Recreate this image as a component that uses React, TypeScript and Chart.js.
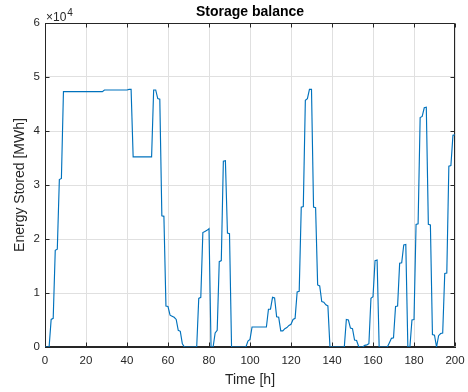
import { useEffect, useRef } from "react";
import { Chart, registerables } from "chart.js";

Chart.register(...registerables);

// Hourly energy held in storage [MWh], t = 0 … 200 h
const storedEnergy: number[] = [
  0, 0, 0, 5100, 5300, 17900, 18100, 31000, 31200, 47300, // 0-9
  47300, 47300, 47300, 47300, 47300, 47300, 47300, 47300, 47300, 47300, // 10-19
  47300, 47300, 47300, 47300, 47300, 47300, 47300, 47300, 47300, 47600, // 20-29
  47600, 47600, 47600, 47600, 47600, 47600, 47600, 47600, 47600, 47600, // 30-39
  47600, 47700, 47700, 35200, 35200, 35200, 35200, 35200, 35200, 35200, // 40-49
  35200, 35200, 35200, 47600, 47600, 46000, 45900, 24300, 24200, 7600, // 50-59
  7500, 5900, 5700, 5500, 5100, 3100, 2900, 600, 0, 0, // 60-69
  0, 0, 0, 0, 0, 9000, 9200, 21200, 21400, 21600, // 70-79
  21900, 0, 0, 2600, 3100, 15800, 16000, 34400, 34500, 21100, // 80-89
  21000, 0, 0, 0, 0, 0, 0, 0, 0, 1100, // 90-99
  1400, 3700, 3700, 3700, 3700, 3700, 3700, 3700, 3700, 7000, // 100-109
  7000, 9200, 9100, 5600, 5500, 3000, 3000, 3400, 3600, 4000, // 110-119
  4200, 5100, 5300, 10200, 10300, 25900, 26000, 45700, 46000, 47700, // 120-129
  47700, 25900, 25800, 11500, 11300, 8400, 8300, 7800, 7600, 0, // 130-139
  0, 0, 0, 0, 0, 0, 0, 5100, 5000, 3500, // 140-149
  3400, 1300, 1200, 100, 0, 0, 300, 400, 600, 9000, // 150-159
  9300, 16000, 16100, 0, 0, 0, 0, 0, 800, 1600, // 160-169
  1700, 7500, 7600, 15500, 15600, 18900, 19000, 0, 0, 5000, // 170-179
  5100, 22700, 22800, 42500, 42700, 44300, 44400, 22700, 22600, 2300, // 180-189
  2200, 0, 2100, 2500, 2600, 13600, 13700, 33500, 33600, 39200, // 190-199
  39300, // 200
];

const hours: number[] = storedEnergy.map((_, i) => i);

const xTickValues: number[] = [0, 20, 40, 60, 80, 100, 120, 140, 160, 180, 200];
const yTickValues: number[] = [0, 10000, 20000, 30000, 40000, 50000, 60000];

const titleText = "Storage balance";
const xLabel = "Time [h]";
const yLabel = "Energy Stored [MWh]";

const AXIS = "#262626";
const GRID = "#e0e0e0";
const LINE = "#0072BD";
const FONT = "'Liberation Sans', Arial, Helvetica, sans-serif";

const W = 468;
const H = 392;

// Box outline, inward tick marks, title and the ×10^4 exponent
const framePlugin = {
  id: "frame",
  beforeDatasetsDraw(chart: any) {
    const { ctx, chartArea: a, scales } = chart;
    const L = Math.round(a.left) + 0.5;
    const R = Math.round(a.right) - 0.5;
    const T = Math.round(a.top) + 0.5;
    const B = Math.round(a.bottom) - 0.5;
    const tick = 4;
    ctx.save();
    ctx.strokeStyle = AXIS;
    ctx.lineWidth = 1;
    ctx.beginPath();
    ctx.moveTo(L, T);
    ctx.lineTo(R, T);
    ctx.lineTo(R, B);
    ctx.moveTo(L, T);
    ctx.lineTo(L, B);
    ctx.lineTo(R, B);
    for (const v of xTickValues) {
      const px = Math.round(scales.x.getPixelForValue(v)) + 0.5;
      ctx.moveTo(px, B);
      ctx.lineTo(px, B - tick);
      ctx.moveTo(px, T);
      ctx.lineTo(px, T + tick);
    }
    for (const v of yTickValues) {
      const py = Math.round(scales.y.getPixelForValue(v)) + 0.5;
      ctx.moveTo(L, py);
      ctx.lineTo(L + tick, py);
      ctx.moveTo(R, py);
      ctx.lineTo(R - tick, py);
    }
    ctx.stroke();
    ctx.restore();
  },
  afterDraw(chart: any) {
    const { ctx, chartArea: a } = chart;
    ctx.save();
    ctx.fillStyle = "#000000";
    ctx.font = `bold 14px ${FONT}`;
    ctx.textAlign = "center";
    ctx.textBaseline = "middle";
    ctx.fillText(titleText, (a.left + a.right) / 2, 12);

    ctx.fillStyle = AXIS;
    ctx.textAlign = "left";
    ctx.textBaseline = "alphabetic";
    ctx.font = `12px ${FONT}`;
    const base = "\u00d710";
    ctx.fillText(base, a.left + 1, 20.5);
    const w = ctx.measureText(base).width;
    ctx.font = `10px ${FONT}`;
    ctx.fillText("4", a.left + 1 + w + 1, 16);
    ctx.restore();
  },
};

export default function App() {
  const canvasRef = useRef<HTMLCanvasElement | null>(null);

  useEffect(() => {
    const canvas = canvasRef.current;
    if (!canvas) return;
    const chart = new Chart(canvas, {
      type: "line",
      data: {
        datasets: [
          {
            data: hours.map((h, i) => ({ x: h, y: storedEnergy[i] })),
            borderColor: LINE,
            borderWidth: 1.15,
            pointRadius: 0,
            fill: false,
            tension: 0,
          },
        ],
      },
      options: {
        animation: false,
        responsive: false,
        devicePixelRatio: 1,
        layout: { padding: { left: 0, right: 13, top: 23, bottom: 0 } },
        plugins: {
          legend: { display: false },
          tooltip: { enabled: false },
          title: { display: false },
        },
        scales: {
          x: {
            type: "linear",
            min: 0,
            max: 200,
            afterBuildTicks: (scale: any) => {
              scale.ticks = xTickValues.map((v) => ({ value: v }));
            },
            afterFit: (scale: any) => {
              scale.height = 45;
              scale.paddingLeft = 0;
              scale.paddingRight = 0;
            },
            grid: { color: GRID, drawTicks: false, lineWidth: 1 },
            border: { display: true, color: AXIS, width: 1 },
            ticks: {
              color: AXIS,
              padding: 7,
              maxRotation: 0,
              autoSkip: false,
              font: { family: FONT, size: 11.5 },
            },
            title: {
              display: true,
              text: xLabel,
              color: AXIS,
              font: { family: FONT, size: 14 },
              padding: { top: 0, bottom: 3 },
            },
          },
          y: {
            type: "linear",
            min: 0,
            max: 60000,
            afterBuildTicks: (scale: any) => {
              scale.ticks = yTickValues.map((v) => ({ value: v }));
            },
            afterFit: (scale: any) => {
              scale.width = 45;
              scale.paddingTop = 0;
              scale.paddingBottom = 0;
            },
            grid: { color: GRID, drawTicks: false, lineWidth: 1 },
            border: { display: true, color: AXIS, width: 1 },
            ticks: {
              color: AXIS,
              padding: 5,
              autoSkip: false,
              font: { family: FONT, size: 11.5 },
              callback: (v: any) => String(Number(v) / 10000),
            },
            title: {
              display: true,
              text: yLabel,
              color: AXIS,
              font: { family: FONT, size: 14 },
              padding: { top: 12, bottom: 0 },
            },
          },
        },
      },
      plugins: [framePlugin],
    });
    return () => chart.destroy();
  }, []);

  return (
    <div style={{ position: "fixed", left: 0, top: 0, width: W, height: H, background: "#ffffff" }}>
      <canvas ref={canvasRef} width={W} height={H} style={{ display: "block", width: W, height: H }} />
    </div>
  );
}
